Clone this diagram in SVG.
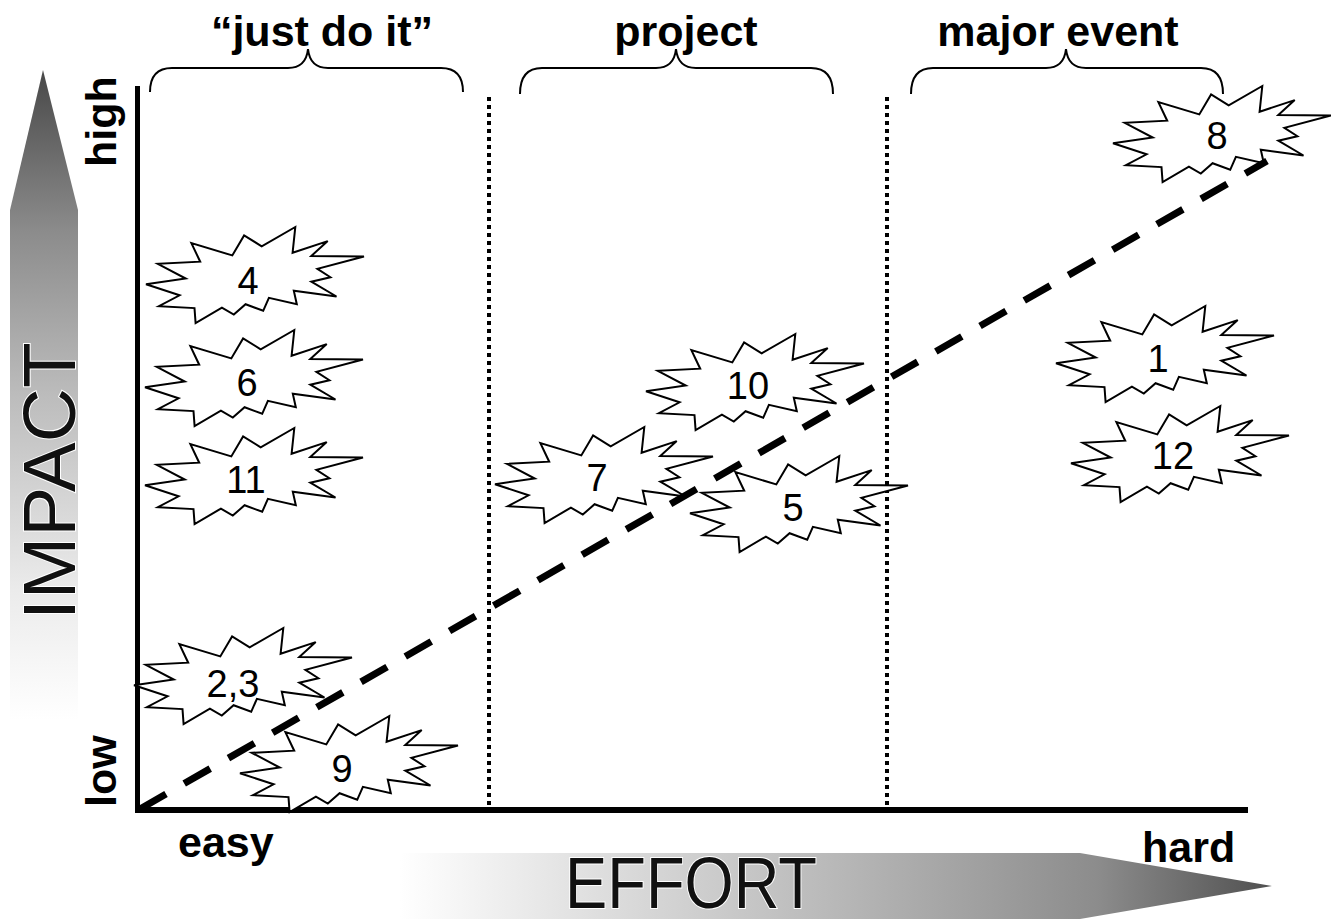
<svg xmlns="http://www.w3.org/2000/svg" xmlns:xlink="http://www.w3.org/1999/xlink" width="1331" height="924" viewBox="0 0 1331 924">
<style>
.lbl{font-family:"Liberation Sans",Arial,sans-serif;font-weight:bold;font-size:43px;fill:#000}
.num{font-family:"Liberation Sans",Arial,sans-serif;font-size:38px;fill:#000;text-anchor:middle}
.burst{fill:#fff;stroke:#000;stroke-width:2;stroke-linejoin:miter}
.brace{fill:none;stroke:#000;stroke-width:2}
.dot{stroke:#000;stroke-width:4;stroke-dasharray:4 4}
.big{font-family:"Liberation Sans",Arial,sans-serif;fill:#111;stroke:#fff;stroke-width:2;paint-order:stroke}
</style>
<defs>
<linearGradient id="gV" gradientUnits="userSpaceOnUse" x1="0" y1="70" x2="0" y2="720">
<stop offset="0" stop-color="#484848"/>
<stop offset="0.25" stop-color="#8c8c8c"/>
<stop offset="0.5" stop-color="#bcbcbc"/>
<stop offset="0.8" stop-color="#ebebeb"/>
<stop offset="1" stop-color="#ffffff"/>
</linearGradient>
<linearGradient id="gH" gradientUnits="userSpaceOnUse" x1="400" y1="0" x2="1272" y2="0">
<stop offset="0" stop-color="#ffffff"/>
<stop offset="0.2" stop-color="#e2e2e2"/>
<stop offset="0.5" stop-color="#b8b8b8"/>
<stop offset="0.8" stop-color="#8c8c8c"/>
<stop offset="1" stop-color="#505050"/>
</linearGradient>
<path id="b" class="burst" d="M115.7,19.3 L98.1,8.4 L86.3,28.4 L45.4,16.1 L54.2,34.7 L11.8,36.8 L39.7,51.5 L0,57.2 L33.6,68.3 L12.9,79.2 L48.5,81.1 L49.6,96 L75.9,80.6 L87.8,87.6 L99.6,77.2 L117.2,83.8 L122.9,70.8 L150.8,77.2 L147.8,63.8 L190.5,69.5 L165.3,54.7 L184.4,50.2 L171.4,41.8 L218,29.5 L165.3,29 L181.7,14.1 L146.6,25.7 L149.3,0 Z"/>
</defs>

<g id="impact-arrow">
<polygon points="43,70 78,210 78,720 10,720 10,210" fill="url(#gV)"/>
<text class="big" font-size="75" transform="translate(75,620) rotate(-90)">IMPACT</text>
</g>
<g id="effort-arrow">
<polygon points="400,853 1080,853 1272,886 1080,919 400,919" fill="url(#gH)"/>
<text class="big" font-size="72" x="565" y="908" textLength="252" lengthAdjust="spacingAndGlyphs">EFFORT</text>
</g>

<g id="axes">
<line x1="137.5" y1="86" x2="137.5" y2="813" stroke="#000" stroke-width="5"/>
<line x1="135" y1="810" x2="1248" y2="810" stroke="#000" stroke-width="6"/>
<line class="dot" x1="489" y1="97" x2="489" y2="808"/>
<line class="dot" x1="887" y1="97" x2="887" y2="808"/>
</g>

<g id="axis-labels">
<text class="lbl" transform="translate(116,167) rotate(-90)">high</text>
<text class="lbl" transform="translate(116,807) rotate(-90)">low</text>
<text class="lbl" x="178" y="857">easy</text>
<text class="lbl" x="1142" y="862">hard</text>
</g>

<g id="group-just-do-it">
<text class="lbl" x="322" y="46" text-anchor="middle">“just do it”</text>
<path class="brace" d="M150,92 Q150,68 172,68 L288,68 Q306,68 308,49 Q310,68 328,68 L441,68 Q463,68 463,92"/>
</g>
<g id="group-project">
<text class="lbl" x="686" y="46" text-anchor="middle">project</text>
<path class="brace" d="M520,94 Q520,68 542,68 L656,68 Q674,68 676,49 Q678,68 696,68 L811,68 Q833,68 833,94"/>
</g>
<g id="group-major-event">
<text class="lbl" x="1058" y="46" text-anchor="middle">major event</text>
<path class="brace" d="M911,94 Q911,68 933,68 L1046,68 Q1064,68 1066,49 Q1068,68 1086,68 L1201,68 Q1223,68 1223,94"/>
</g>

<g id="n4"><use xlink:href="#b" transform="translate(146,227)"/><text class="num" x="248" y="294">4</text></g>
<g id="n6"><use xlink:href="#b" transform="translate(145,330)"/><text class="num" x="247" y="396">6</text></g>
<g id="n11"><use xlink:href="#b" transform="translate(145,428)"/><text class="num" x="246" y="493">11</text></g>
<g id="n23"><use xlink:href="#b" transform="translate(134,628)"/><text class="num" x="233" y="697">2,3</text></g>
<g id="n9"><use xlink:href="#b" transform="translate(240,716)"/><text class="num" x="342" y="782">9</text></g>
<g id="n10"><use xlink:href="#b" transform="translate(646,334)"/><text class="num" x="748" y="399">10</text></g>
<g id="n7"><use xlink:href="#b" transform="translate(495,427)"/><text class="num" x="597" y="491">7</text></g>
<g id="n5"><use xlink:href="#b" transform="translate(690,456)"/><text class="num" x="793" y="521">5</text></g>
<g id="n1"><use xlink:href="#b" transform="translate(1056,306)"/><text class="num" x="1158" y="372">1</text></g>
<g id="n12"><use xlink:href="#b" transform="translate(1071,406)"/><text class="num" x="1173" y="469">12</text></g>
<g id="n8"><use xlink:href="#b" transform="translate(1113,86)"/><text class="num" x="1217" y="149">8</text></g>

<g id="connectors">
<line x1="140" y1="809" x2="1267" y2="161" stroke="#000" stroke-width="7" stroke-dasharray="30 21"/>
</g>
</svg>
